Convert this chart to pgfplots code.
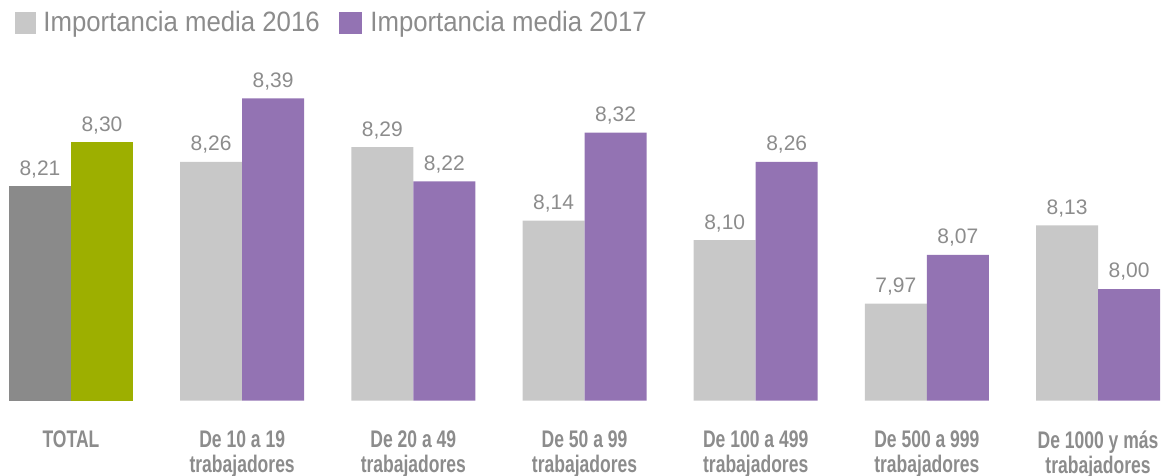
\documentclass[border=0pt]{standalone}
\usepackage{pgfplots}
\pgfplotsset{compat=1.18}
\usepackage{fontspec}
\setmainfont{Liberation Sans}
\newfontfamily\legfont[FakeStretch=0.92]{Liberation Sans}
\newfontfamily\catfont[FakeStretch=0.73]{Liberation Sans}
\definecolor{g16}{HTML}{C8C8C8}
\definecolor{p17}{HTML}{9373B3}
\definecolor{tot16}{HTML}{8A8A8A}
\definecolor{tot17}{HTML}{9DAF00}
\definecolor{lbl}{HTML}{8C8C8C}
\begin{document}
\begin{tikzpicture}
\begin{axis}[
    width=583pt, height=200.25pt, scale only axis,
    xmin=-0.4147, xmax=6.397,
    ymin=7.772, ymax=8.591,
    axis line style={draw=none},
    ytick=\empty,
    xtick={0,...,6},
    major tick length=0pt,
    xticklabels={TOTAL, De 10 a 19\\trabajadores, De 20 a 49\\trabajadores,
        De 50 a 99\\trabajadores, De 100 a 499\\trabajadores,
        De 500 a 999\\trabajadores, De 1000 y más\\trabajadores},
    xticklabel style={font=\catfont\bfseries\fontsize{12}{12.5}\selectfont,
        text=lbl, align=center, anchor=north, inner sep=0pt, yshift=-15pt},
    ybar, bar width=31pt,
    /pgf/number format/fixed,
    /pgf/number format/fixed zerofill,
    /pgf/number format/precision=2,
    /pgf/number format/use comma,
    /pgf/number format/assume math mode=true,
    nodes near coords,
    nodes near coords style={font=\fontsize{10.5}{12}\selectfont, text=lbl,
        inner sep=0pt, anchor=south, yshift=4pt},
]
% 2016
\addplot[fill=g16, draw=none, bar shift=-15.5pt] coordinates {
    (1,8.26) (2,8.29) (3,8.14) (4,8.10) (5,7.97) (6,8.13)
};
% 2017
\addplot[fill=p17, draw=none, bar shift=15.5pt] coordinates {
    (1,8.39) (2,8.22) (3,8.32) (4,8.26) (5,8.07) (6,8.00)
};
% total
\addplot[fill=tot16, draw=none, bar shift=-15.5pt] coordinates {(0,8.21)};
\addplot[fill=tot17, draw=none, bar shift=15.5pt] coordinates {(0,8.30)};
\end{axis}
% legend
\fill[g16] (7.5pt,183.25pt) rectangle (18pt,194.25pt);
\node[anchor=base west, inner sep=0pt, text=lbl, font=\legfont\fontsize{14}{16}\selectfont]
    at (21.5pt,184.25pt) {Importancia media 2016};
\fill[p17] (169.5pt,183.25pt) rectangle (181pt,194.25pt);
\node[anchor=base west, inner sep=0pt, text=lbl, font=\legfont\fontsize{14}{16}\selectfont]
    at (185pt,184.25pt) {Importancia media 2017};
\pgfresetboundingbox
\path (0pt,-37.75pt) rectangle (583pt,200.25pt);
\end{tikzpicture}
\end{document}
